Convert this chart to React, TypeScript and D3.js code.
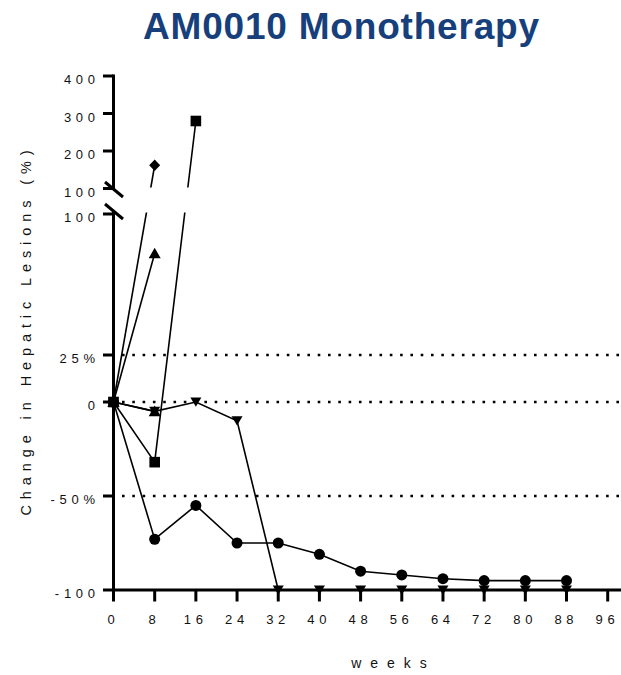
import React from "react";
import * as d3 from "d3";

// ---------- data ----------
const xTicks = [0, 8, 16, 24, 32, 40, 48, 56, 64, 72, 80, 88, 96];
const yTicksLower = [100, 25, 0, -50, -100];
const yTickLabelsLower = ["100", "25%", "0", "-50%", "-100"];
const yTicksUpper = [400, 300, 200, 100];
const yTickLabelsUpper = ["400", "300", "200", "100"];
const refLines = [25, 0, -50];

const circleWeeks = [0, 8, 16, 24, 32, 40, 48, 56, 64, 72, 80, 88];
const circleValues = [0, -73, -55, -75, -75, -81, -90, -92, -94, -95, -95, -95];

const triDownWeeks = [0, 8, 16, 24, 32, 40, 48, 56, 64, 72, 80, 88];
const triDownValues = [0, -5, 0, -10, -100, -100, -100, -100, -100, -100, -100, -100];

const squareWeeks = [0, 8, 16];
const squareValues = [0, -32, 280];

const triUpAWeeks = [0, 8];
const triUpAValues = [0, 79];

const triUpBWeeks = [0, 8];
const triUpBValues = [0, -5];

const diamondWeeks = [0, 8];
const diamondValues = [0, 162];

const titleText = "AM0010 Monotherapy";
const xTitle = "weeks";
const yTitle = "Change in Hepatic Lesions (%)";

// ---------- layout ----------
const W = 621;
const H = 675;
const FONT = "'Liberation Sans', Arial, sans-serif";

const x = d3.scaleLinear().domain([0, 96]).range([113.5, 607.7]);
const yLow = d3.scaleLinear().domain([-100, 100]).range([590, 214]);
const yHigh = d3.scaleLinear().domain([100, 400]).range([188.5, 76]);
const yPos = (v: number) => (v > 100 ? yHigh(v) : yLow(v));

type Shape = "circle" | "square" | "triUp" | "triDown" | "diamond";

function markerPath(shape: Shape, cx: number, cy: number): string {
  const p = d3.path();
  if (shape === "circle") {
    p.arc(cx, cy, 5.5, 0, Math.PI * 2);
  } else if (shape === "square") {
    p.rect(cx - 5.3, cy - 5.3, 10.6, 10.6);
  } else if (shape === "triUp") {
    p.moveTo(cx, cy - 5.8);
    p.lineTo(cx + 6, cy + 4.8);
    p.lineTo(cx - 6, cy + 4.8);
    p.closePath();
  } else if (shape === "triDown") {
    p.moveTo(cx - 5.5, cy - 4.6);
    p.lineTo(cx + 5.5, cy - 4.6);
    p.lineTo(cx, cy + 4.8);
    p.closePath();
  } else {
    p.moveTo(cx, cy - 5.7);
    p.lineTo(cx + 5.5, cy);
    p.lineTo(cx, cy + 5.7);
    p.lineTo(cx - 5.5, cy);
    p.closePath();
  }
  return p.toString();
}

const series: { weeks: number[]; values: number[]; shape: Shape }[] = [
  { weeks: triDownWeeks, values: triDownValues, shape: "triDown" },
  { weeks: circleWeeks, values: circleValues, shape: "circle" },
  { weeks: squareWeeks, values: squareValues, shape: "square" },
  { weeks: triUpAWeeks, values: triUpAValues, shape: "triUp" },
  { weeks: triUpBWeeks, values: triUpBValues, shape: "triUp" },
  { weeks: diamondWeeks, values: diamondValues, shape: "diamond" },
];

const line = d3
  .line<[number, number]>()
  .x((d) => x(d[0]))
  .y((d) => yPos(d[1]));

export default function App() {
  const axisX = x(0);
  const tickLs = 4.7;
  return (
    <svg width={W} height={H} style={{ position: "absolute", left: 0, top: 0 }}>
      <defs>
        <clipPath id="gapclip">
          <rect x={0} y={0} width={W} height={187.5} />
          <rect x={0} y={212.5} width={W} height={H - 212.5} />
        </clipPath>
      </defs>
      <rect width={W} height={H} fill="#fff" />

      {/* title */}
      <text
        x={341}
        y={39}
        textAnchor="middle"
        fontFamily={FONT}
        fontWeight="bold"
        fontSize={37}
        fill="#173f7c"
        textLength={396}
        lengthAdjust="spacing"
      >
        {titleText}
      </text>

      {/* reference dotted lines */}
      {refLines.map((v) => (
        <line
          key={v}
          x1={122}
          x2={W}
          y1={yLow(v)}
          y2={yLow(v)}
          stroke="#000"
          strokeWidth={2.6}
          strokeDasharray="2.6 7.7"
        />
      ))}

      {/* data lines */}
      <g clipPath="url(#gapclip)">
        {series.map((s, i) => (
          <path
            key={i}
            d={line(s.weeks.map((w, j) => [w, s.values[j]] as [number, number])) || ""}
            fill="none"
            stroke="#000"
            strokeWidth={1.6}
          />
        ))}
      </g>

      {/* axes */}
      <g stroke="#000" strokeWidth={3} fill="none">
        <line x1={axisX} x2={axisX} y1={74.5} y2={190} />
        <line x1={axisX} x2={axisX} y1={211} y2={591.5} />
        <line x1={axisX - 1.5} x2={W} y1={590} y2={590} />
        {/* break marks */}
        <line x1={105} y1={182} x2={123} y2={197} />
        <line x1={105} y1={204} x2={123} y2={219} />
        {xTicks.map((t) => (
          <line key={"xt" + t} x1={x(t)} x2={x(t)} y1={590} y2={601.5} />
        ))}
        {yTicksLower.map((t) => (
          <line key={"yl" + t} x1={103} x2={axisX} y1={yLow(t)} y2={yLow(t)} />
        ))}
        {yTicksUpper.map((t) => (
          <line key={"yu" + t} x1={103} x2={axisX} y1={yHigh(t)} y2={yHigh(t)} />
        ))}
      </g>

      {/* markers */}
      {series.map((s, i) => (
        <g key={"m" + i}>
          {s.weeks.map((w, j) => (
            <path key={j} d={markerPath(s.shape, x(w), yPos(s.values[j]))} fill="#000" />
          ))}
        </g>
      ))}

      {/* tick labels */}
      <g fontFamily={FONT} fontSize={13} fill="#111" style={{ letterSpacing: `${tickLs}px` }}>
        {xTicks.map((t) => (
          <text key={"xl" + t} x={x(t) + tickLs / 2 - 2.5} y={624} textAnchor="middle">
            {String(t)}
          </text>
        ))}
        {yTicksLower.map((t, i) => (
          <text key={"yll" + t} x={95 + tickLs} y={yLow(t) + 8} textAnchor="end">
            {yTickLabelsLower[i]}
          </text>
        ))}
        {yTicksUpper.map((t, i) => (
          <text key={"yul" + t} x={95 + tickLs} y={yHigh(t) + 8} textAnchor="end">
            {yTickLabelsUpper[i]}
          </text>
        ))}
      </g>

      {/* axis titles */}
      <text
        x={389 + 4.5}
        y={668}
        textAnchor="middle"
        fontFamily={FONT}
        fontSize={14}
        fill="#111"
        style={{ letterSpacing: "9px" }}
      >
        {xTitle}
      </text>
      <text
        transform={`translate(31, ${330}) rotate(-90)`}
        textAnchor="middle"
        fontFamily={FONT}
        fontSize={14.5}
        fill="#111"
        style={{ letterSpacing: "5.9px" }}
      >
        {yTitle}
      </text>
    </svg>
  );
}
